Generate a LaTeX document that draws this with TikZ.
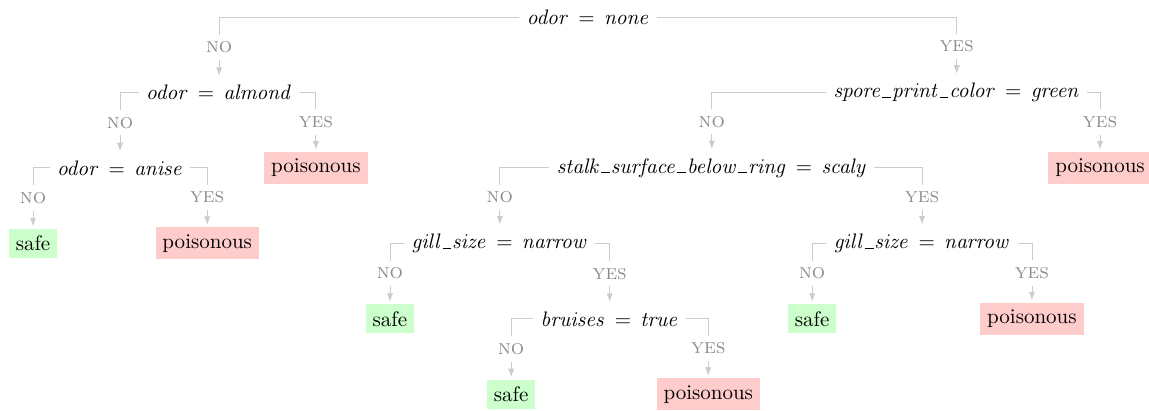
\documentclass[tikz,border=0pt]{standalone}
\usetikzlibrary{arrows.meta}
\definecolor{edgegray}{rgb}{0.8,0.8,0.8}
\definecolor{labelgray}{rgb}{0.55,0.55,0.55}
\definecolor{safegreen}{rgb}{0.8,1,0.8}
\definecolor{poisonred}{rgb}{1,0.8,0.8}
\newcommand{\usc}{\kern.04em\rule{.42em}{.45pt}\kern.04em}
\newcommand{\cond}[2]{$\mathit{#1}\,=\,\mathit{#2}$}
\tikzset{
  split/.style={},
  safeleaf/.style={fill=safegreen},
  poisonleaf/.style={fill=poisonred},
  branch/.style={draw=edgegray,-{Latex[length=4pt,width=3pt]},shorten >=1pt},
  answer/.style={pos=0.75,fill=white,text=labelgray,font=\scshape}
}
\begin{document}
\begin{tikzpicture}

    \useasboundingbox (0,0) rectangle (19.24,-6.866);

    % tests
    \node[split] (odor1) at (9.85,-0.285) {\cond{odor}{none}};
    \node[split] (odor2) at (3.67,-1.548) {\cond{odor}{almond}};
    \node[split] (spore) at (16.02,-1.548) {\cond{spore\usc print\usc color}{green}};
    \node[split] (odor3) at (2.01,-2.811) {\cond{odor}{anise}};
    \node[split] (stalk) at (11.92,-2.811) {\cond{stalk\usc surface\usc below\usc ring}{scaly}};
    \node[split] (gill1) at (8.37,-4.074) {\cond{gill\usc size}{narrow}};
    \node[split] (gill2) at (15.44,-4.074) {\cond{gill\usc size}{narrow}};
    \node[split] (bruises) at (10.21,-5.337) {\cond{bruises}{true}};

    % leaves
    \node[poisonleaf] (pois1) at (5.29,-2.811) {poisonous};
    \node[poisonleaf] (pois2) at (18.42,-2.811) {poisonous};
    \node[safeleaf] (safe1) at (0.553,-4.074) {safe};
    \node[poisonleaf] (pois3) at (3.47,-4.074) {poisonous};
    \node[safeleaf] (safe2) at (6.53,-5.337) {safe};
    \node[safeleaf] (safe3) at (13.60,-5.337) {safe};
    \node[poisonleaf] (pois4) at (17.28,-5.337) {poisonous};
    \node[safeleaf] (safe4) at (8.56,-6.6) {safe};
    \node[poisonleaf] (pois5) at (11.86,-6.6) {poisonous};

    % branches
    \draw[branch] (odor1.west) -| node[answer]{no} (odor2.north);
    \draw[branch] (odor1.east) -| node[answer]{yes} (spore.north);
    \draw[branch] (odor2.west) -| node[answer]{no} (odor3.north);
    \draw[branch] (odor2.east) -| node[answer]{yes} (pois1.north);
    \draw[branch] (spore.west) -| node[answer]{no} (stalk.north);
    \draw[branch] (spore.east) -| node[answer]{yes} (pois2.north);
    \draw[branch] (odor3.west) -| node[answer]{no} (safe1.north);
    \draw[branch] (odor3.east) -| node[answer]{yes} (pois3.north);
    \draw[branch] (stalk.west) -| node[answer]{no} (gill1.north);
    \draw[branch] (stalk.east) -| node[answer]{yes} (gill2.north);
    \draw[branch] (gill1.west) -| node[answer]{no} (safe2.north);
    \draw[branch] (gill1.east) -| node[answer]{yes} (bruises.north);
    \draw[branch] (gill2.west) -| node[answer]{no} (safe3.north);
    \draw[branch] (gill2.east) -| node[answer]{yes} (pois4.north);
    \draw[branch] (bruises.west) -| node[answer]{no} (safe4.north);
    \draw[branch] (bruises.east) -| node[answer]{yes} (pois5.north);

\end{tikzpicture}
\end{document}
